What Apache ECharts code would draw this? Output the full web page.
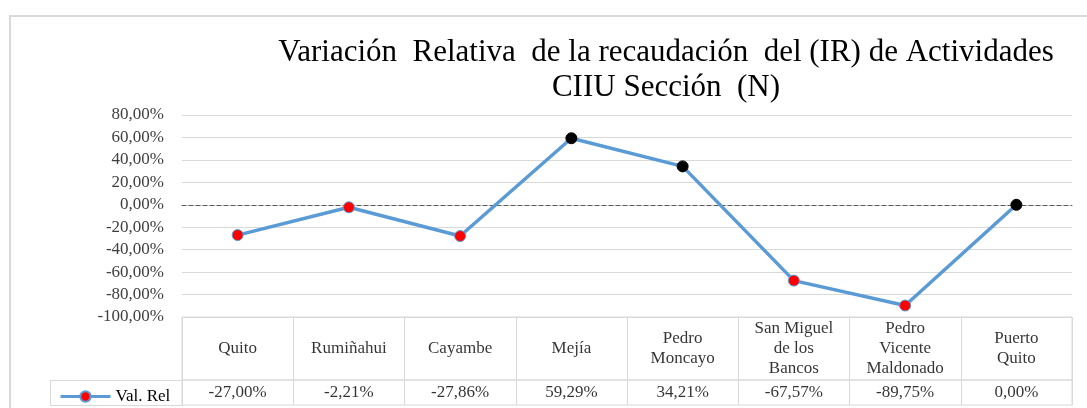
<!DOCTYPE html>
<html>
<head>
<meta charset="utf-8">
<script src="https://cdn.jsdelivr.net/npm/echarts@6/dist/echarts.min.js"></script>
<style>
  html, body { margin: 0; padding: 0; background: #fff; }
  #main { width: 1087px; height: 408px; }
</style>
</head>
<body>
<div id="main"></div>
<script>
// datos del gráfico
var categories = ['Quito', 'Rumiñahui', 'Cayambe', 'Mejía', 'Pedro\nMoncayo',
	'San Miguel\nde los\nBancos', 'Pedro\nVicente\nMaldonado', 'Puerto\nQuito'];
var values = [-27.00, -2.21, -27.86, 59.29, 34.21, -67.57, -89.75, 0.00];
var seriesName = 'Val. Rel';
var yMin = -100, yMax = 80, yStep = 20;

var serif = 'Liberation Serif';
var gridColor = '#d9d9d9';

function pct(v) {
	return v.toFixed(2).replace('.', ',') + '%';
}

var myChart = echarts.init(document.getElementById('main'));

myChart.setOption({
	animation : false,
	title : {
		text : 'Variación  Relativa  de la recaudación  del (IR) de Actividades\nCIIU Sección  (N)',
		left : 661,
		top : 30,
		textAlign : 'center',
		textStyle : {
			fontFamily : serif,
			fontSize : 31,
			fontWeight : 'normal',
			color : '#000',
			lineHeight : 35
		}
	},
	legend : {
		data : [ seriesName ],
		left : 54,
		top : 383,
		itemWidth : 50,
		itemHeight : 13,
		itemGap : 4,
		lineStyle : { width : 3, color : '#5B9BD5' },
		textStyle : { fontFamily : serif, fontSize : 17, color : '#000' }
	},
	graphic : [ {
		// marco del área del gráfico
		type : 'rect',
		shape : { x : 10, y : 16, width : 1200, height : 500 },
		style : { fill : 'none', stroke : '#d9d9d9', lineWidth : 2 },
		silent : true
	}, {
		// celda de la leyenda en la tabla
		type : 'rect',
		shape : { x : 50.5, y : 380.5, width : 132, height : 25 },
		style : { fill : 'none', stroke : gridColor, lineWidth : 1 },
		silent : true
	} ],
	grid : [
		{ left : 182, right : 15, top : 115, height : 202 },
		{ left : 182, right : 15, top : 317, height : 63, show : true, borderColor : gridColor },
		{ left : 182, right : 15, top : 380, height : 25, show : true, borderColor : gridColor }
	],
	xAxis : [ {
		gridIndex : 0,
		type : 'category',
		data : categories,
		boundaryGap : true,
		axisTick : { show : false },
		axisLabel : { show : false },
		axisLine : { show : true, onZero : true,
			lineStyle : { color : '#595959', type : [4, 3], width : 1 } }
	}, {
		gridIndex : 1,
		type : 'category',
		data : categories,
		boundaryGap : true,
		axisTick : { show : false },
		axisLabel : { show : false },
		axisLine : { show : false },
		splitLine : { show : true, interval : 0, lineStyle : { color : gridColor } }
	}, {
		gridIndex : 2,
		type : 'category',
		data : categories,
		boundaryGap : true,
		axisTick : { show : false },
		axisLabel : { show : false },
		axisLine : { show : false },
		splitLine : { show : true, interval : 0, lineStyle : { color : gridColor } }
	} ],
	yAxis : [ {
		gridIndex : 0,
		type : 'value',
		min : yMin,
		max : yMax,
		interval : yStep,
		axisLine : { show : false },
		axisTick : { show : false },
		axisLabel : {
			margin : 18,
			fontFamily : serif,
			fontSize : 17,
			color : '#404040',
			formatter : function(v) { return pct(v); }
		},
		splitLine : { lineStyle : { color : gridColor } }
	}, {
		gridIndex : 1, type : 'value', min : 0, max : 1, show : false
	}, {
		gridIndex : 2, type : 'value', min : 0, max : 1, show : false
	} ],
	series : [ {
		name : seriesName,
		type : 'line',
		xAxisIndex : 0,
		yAxisIndex : 0,
		symbol : 'circle',
		symbolSize : 11,
		lineStyle : { color : '#5B9BD5', width : 3.5 },
		itemStyle : { color : '#FF0000', borderColor : '#5B9BD5', borderWidth : 1 },
		data : values.map(function(v) {
			if (v >= 0) {
				return { value : v, itemStyle : { color : '#000', borderColor : '#000' } };
			}
			return v;
		}),
		z : 5
	}, {
		// fila de categorías de la tabla
		type : 'scatter',
		xAxisIndex : 1,
		yAxisIndex : 1,
		symbolSize : 1,
		itemStyle : { color : 'rgba(0,0,0,0)' },
		silent : true,
		label : {
			show : true,
			position : 'inside',
			fontFamily : serif,
			fontSize : 17,
			lineHeight : 20,
			color : '#000',
			formatter : function(p) { return categories[p.dataIndex]; }
		},
		data : categories.map(function(c, i) { return [ i, 0.5 ]; })
	}, {
		// fila de valores de la tabla
		type : 'scatter',
		xAxisIndex : 2,
		yAxisIndex : 2,
		symbolSize : 1,
		itemStyle : { color : 'rgba(0,0,0,0)' },
		silent : true,
		label : {
			show : true,
			position : 'inside',
			fontFamily : serif,
			fontSize : 17,
			color : '#000',
			formatter : function(p) { return pct(values[p.dataIndex]); }
		},
		data : values.map(function(v, i) { return [ i, 0.5 ]; })
	} ]
});
</script>
</body>
</html>
